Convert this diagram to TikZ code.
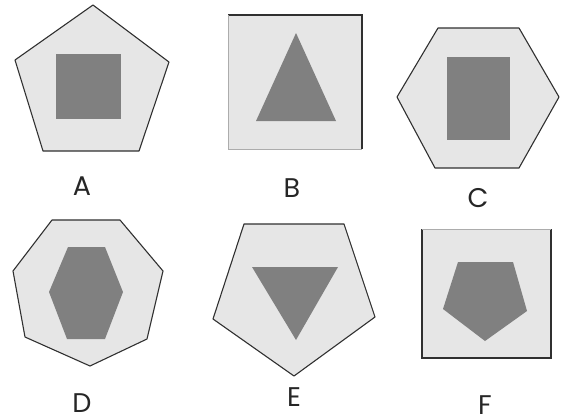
\documentclass[tikz,border=0pt]{standalone}
\usepackage{fontspec}
\setmainfont{Poppins}
\definecolor{outerfill}{HTML}{E6E6E6}
\definecolor{innerfill}{HTML}{808080}
\definecolor{edge}{HTML}{303030}
\tikzset{
  outershape/.style={fill=outerfill, draw=edge, line width=1.1pt, line join=round},
  innershape/.style={fill=innerfill, draw=none},
  letter/.style={font=\fontsize{27}{27}\selectfont, text=black!85, inner sep=0pt, anchor=base}
}
\begin{document}
\begin{tikzpicture}[x=1pt,y=-1pt]
\useasboundingbox (0,0) rectangle (570,418);
% A
\draw[outershape] (93,5) -- (169,62) -- (139,151) -- (43,151) -- (15,60) -- cycle;
\fill[innershape] (56,54) rectangle (121,119);
\node[letter] (la) at (82,195) {A};
% B
\fill[outerfill] (228,15) rectangle (362,149);
\draw[edge, line width=1.1pt] (228,15) -- (362,15) -- (362,149);
\draw[edge!40, line width=0.6pt] (228,15) -- (228,149) -- (362,149);
\fill[innershape] (296,33) -- (336,121) -- (256,121) -- cycle;
\node[letter] (lb) at (292,197) {B};
% C
\draw[outershape] (438,28) -- (519,28) -- (559,97) -- (519,168) -- (435,168) -- (397,97) -- cycle;
\fill[innershape] (447,57) rectangle (510,140);
\node[letter] (lc) at (478,207) {C};
% D
\draw[outershape] (52,220) -- (120,220) -- (163,271) -- (147,339) -- (90,366) -- (25,337) -- (13,271) -- cycle;
\fill[innershape] (68,247) -- (105,247) -- (123,292) -- (105,339) -- (67,339) -- (49,292) -- cycle;
\node[letter] (ld) at (82,412) {D};
% E
\draw[outershape] (244,224) -- (344,224) -- (375,317) -- (294,376) -- (213,319) -- cycle;
\fill[innershape] (252,267) -- (338,267) -- (296,340) -- cycle;
\node[letter] (le) at (294,406) {E};
% F
\fill[outerfill] (422,229) rectangle (551,358);
\draw[edge, line width=1.1pt] (422,229) -- (422,358) -- (551,358) -- (551,229);
\draw[edge!40, line width=0.6pt] (422,229) -- (551,229);
\fill[innershape] (458,262) -- (513,262) -- (527,311) -- (485,341) -- (443,309) -- cycle;
\node[letter] (lf) at (485,414) {F};
\end{tikzpicture}
\end{document}
